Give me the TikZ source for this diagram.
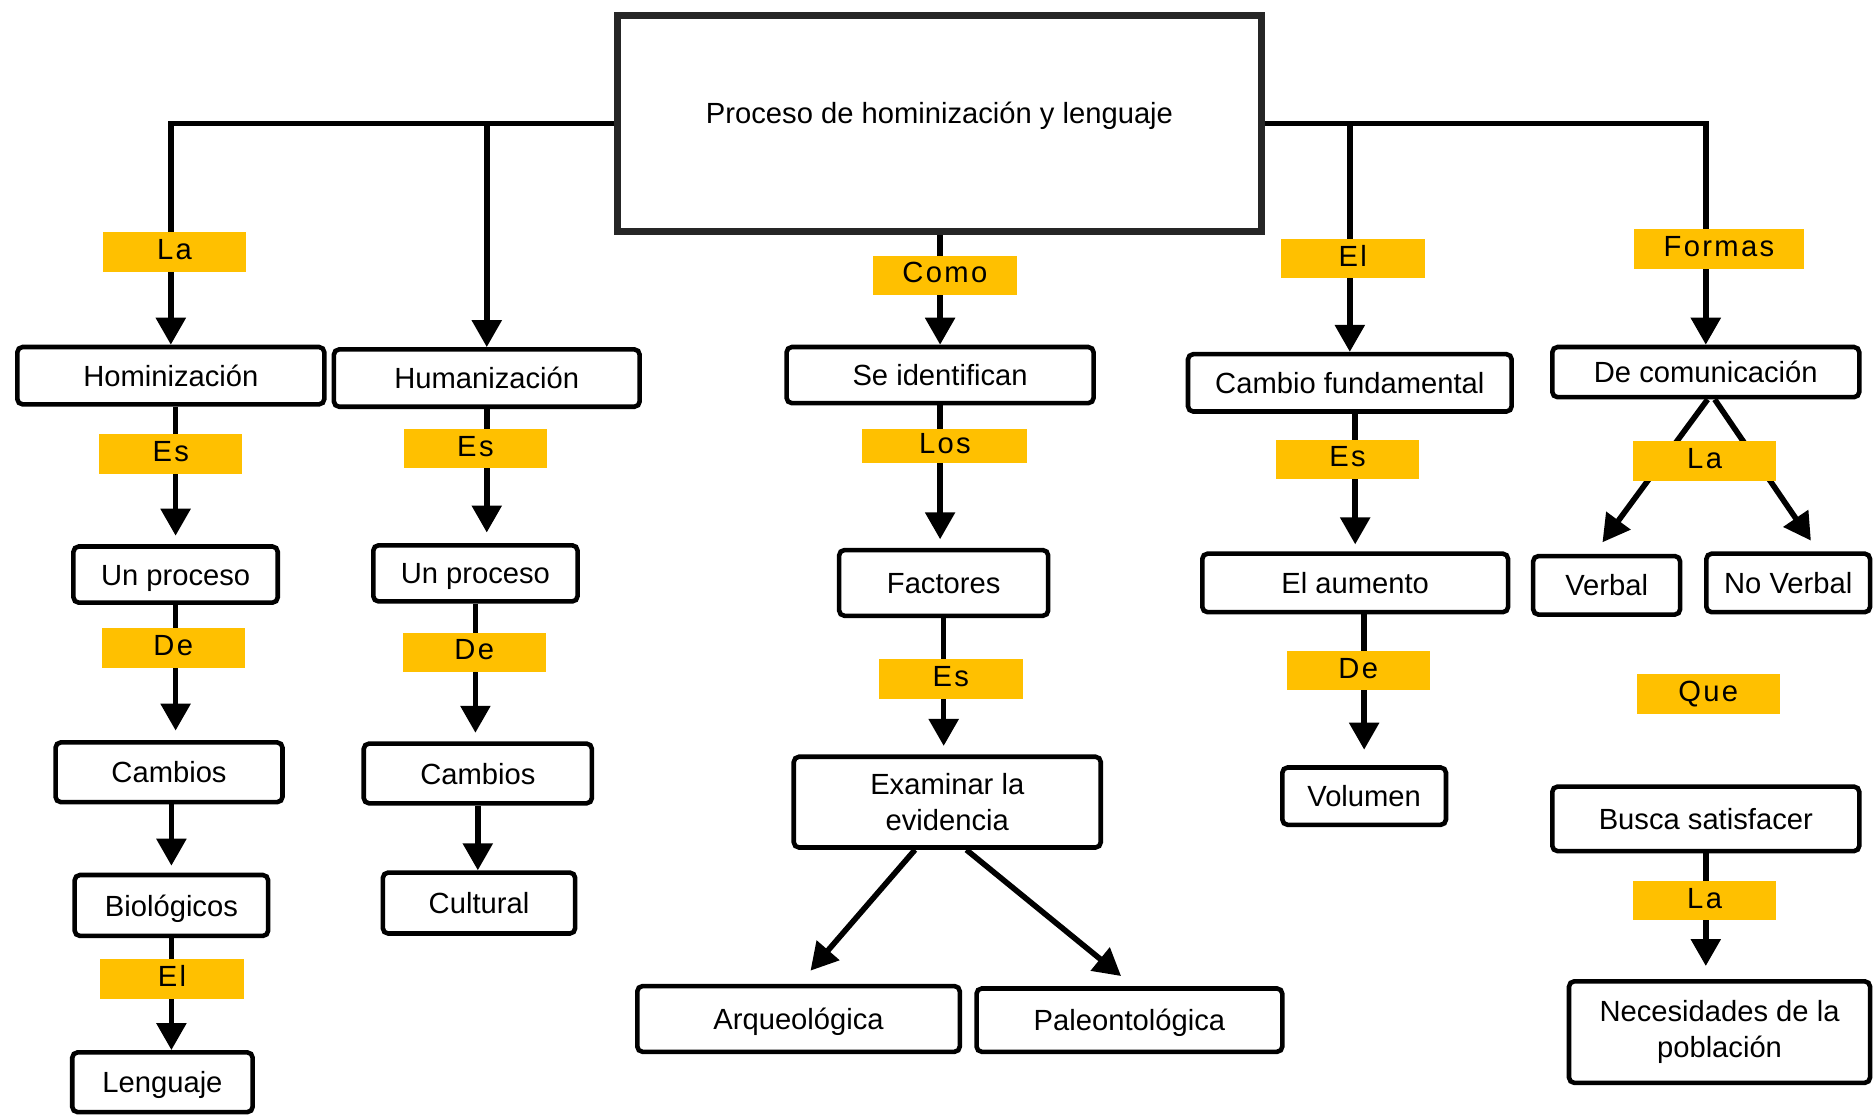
\documentclass[tikz,border=0pt]{standalone}
\usepackage{fontspec}
\setmainfont{Liberation Sans}
\usepackage{tikz}
\usetikzlibrary{arrows.meta}
\definecolor{Label}{RGB}{255, 192, 0}
\definecolor{Frame}{RGB}{38, 38, 38}
\newcommand{\px}{0.11945mm}
\tikzset{
    dims/.style 2 args={minimum width=#1*\px, minimum height=#2*\px},
    box/.style={draw, line width=1.3pt, rounded corners=1.5pt, inner sep=0pt, align=center, text height=7pt, text depth=1pt},
    twolines/.style={text height=, text depth=},
    tag/.style={fill=Label, inner sep=0pt, dims={120}{33}, text height=6pt, text depth=1.7pt,
        font=\fontsize{8.3}{10.2}\selectfont\addfontfeatures{LetterSpace=8}},
    conn/.style={line width=1.6pt, -{Triangle[length=2.7mm, width=2.9mm]}},
}

\begin{document}
\begin{tikzpicture}[x=\px, y=-\px, font=\fontsize{8.3}{10.2}\selectfont]
    %%Background
    \useasboundingbox (0,0) rectangle (1568,933);

    %% Title
    \node[box, draw=Frame, line width=2pt, rounded corners=0pt, dims={539}{181}, text height=6pt, text depth=6pt]
    (proceso) at (786.5,103.5) {Proceso de hominización y lenguaje};

    %% First row
    \node[box, dims={257}{48}] (hominizacion) at (143,314.5) {Hominización};
    \node[box, dims={256}{48}] (humanizacion) at (407.5,316.5) {Humanización};
    \node[box, dims={257}{47}] (identifican) at (787,314) {Se identifican};
    \node[box, dims={271}{48}] (cambio) at (1130,320.5) {Cambio fundamental};
    \node[box, dims={257}{42}] (comunicacion) at (1428,311.5) {De comunicación};

    %% Second row
    \node[box, dims={171}{47}] (proceso1) at (147,481) {Un proceso};
    \node[box, dims={171}{47}] (proceso2) at (398,480) {Un proceso};
    \node[box, dims={175}{55}] (factores) at (790,488) {Factores};
    \node[box, dims={256}{49}] (aumento) at (1134.5,488) {El aumento};
    \node[box, dims={123}{49}] (verbal) at (1345,490) {Verbal};
    \node[box, dims={137}{49}] (noverbal) at (1497,488) {No Verbal};

    %% Third row
    \node[box, dims={190}{50}] (cambios1) at (141.5,646.5) {Cambios};
    \node[box, dims={191}{50}] (cambios2) at (400,647.5) {Cambios};
    \node[box, twolines, dims={257}{76}] (examinar) at (793,671.5) {Examinar la\\evidencia};
    \node[box, dims={137}{48}] (volumen) at (1142,666.5) {Volumen};
    \node[box, dims={257}{54}] (busca) at (1428,685.5) {Busca satisfacer};

    %% Fourth row
    \node[box, dims={162}{51}] (biologicos) at (143.5,758) {Biológicos};
    \node[box, dims={161}{51}] (cultural) at (401,756) {Cultural};
    \node[box, dims={270}{55}] (arqueologica) at (668.5,853) {Arqueológica};
    \node[box, dims={256}{53}] (paleontologica) at (945.5,854) {Paleontológica};
    \node[box, twolines, dims={252}{85}] (necesidades) at (1439.5,864) {Necesidades de la\\población};
    \node[box, dims={151}{50}] (lenguaje) at (136,906) {Lenguaje};

    %% Arrows from the title
    \draw[conn] (proceso.west) -| (hominizacion.north);
    \draw[conn] (proceso.west) -| (humanizacion.north);
    \draw[conn] (proceso.south -| identifican.north) -- (identifican.north);
    \draw[conn] (proceso.east) -| (cambio.north);
    \draw[conn] (proceso.east) -| (comunicacion.north);

    %% Arrows down the columns
    \draw[conn, shorten >=0.85mm] (proceso1.north |- hominizacion.south) -- (proceso1.north);
    \draw[conn, shorten >=0.95mm] (proceso1.south) -- (proceso1.south |- cambios1.north);
    \draw[conn, shorten >=0.7mm] (biologicos.north |- cambios1.south) -- (biologicos.north);
    \draw[conn] (biologicos.south) -- (biologicos.south |- lenguaje.north);
    \draw[conn, shorten >=1.05mm] (humanizacion.south) -- (humanizacion.south |- proceso2.north);
    \draw[conn, shorten >=0.85mm] (proceso2.south) -- (proceso2.south |- cambios2.north);
    \draw[conn] (cambios2.south) -- (cambios2.south |- cultural.north);
    \draw[conn, shorten >=0.85mm] (identifican.south) -- (identifican.south |- factores.north);
    \draw[conn, shorten >=0.85mm] (factores.south) -- (factores.south |- examinar.north);
    \draw[conn, shorten >=0.7mm] (aumento.north |- cambio.south) -- (aumento.north);
    \draw[conn, shorten >=1.55mm] (volumen.north |- aumento.south) -- (volumen.north);
    \draw[conn, shorten >=1.3mm] (busca.south) -- (busca.south |- necesidades.north);

    %% Diagonal arrows
    \draw[conn] ([xshift=-27*\px]examinar.south) -- ([xshift=10*\px, yshift=11*\px]arqueologica.north);
    \draw[conn] ([xshift=16*\px]examinar.south) -- ([xshift=-7*\px, yshift=8.5*\px]paleontologica.north);
    \draw[conn] ([xshift=1.5*\px]comunicacion.south) -- ([xshift=-3.5*\px, yshift=9.6*\px]verbal.north);
    \draw[conn] ([xshift=7.5*\px]comunicacion.south) -- ([xshift=19*\px, yshift=9*\px]noverbal.north);

    %% Labels
    \node[tag] (la1) at (146,211) {La};
    \node[tag, dims={120}{33}] (como) at (791,230.5) {Como};
    \node[tag, dims={121}{33}] (el1) at (1132.5,216.5) {El};
    \node[tag, dims={142}{33}] (formas) at (1439,208.5) {Formas};
    \node[tag] (es1) at (143,380) {Es};
    \node[tag] (es2) at (398,375.5) {Es};
    \node[tag, dims={138}{29}] (los) at (791,373.5) {Los};
    \node[tag] (es3) at (1128,384.5) {Es};
    \node[tag] (la2) at (1427,386) {La};
    \node[tag] (de1) at (145,542.5) {De};
    \node[tag] (de2) at (397,546) {De};
    \node[tag] (es4) at (796,568.5) {Es};
    \node[tag] (de3) at (1137,561.5) {De};
    \node[tag] (que) at (1430,581) {Que};
    \node[tag] (la3) at (1427,754) {La};
    \node[tag] (el2) at (144,819.5) {El};

\end{tikzpicture}
\end{document}
